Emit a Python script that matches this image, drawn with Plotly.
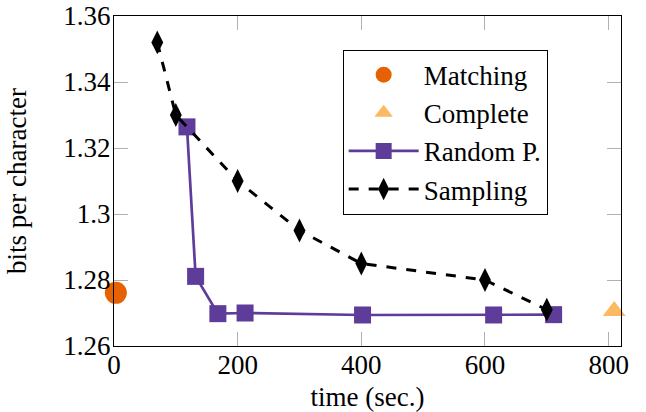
import plotly.graph_objects as go

# Data
matching_x = [3]
matching_y = [1.2761]

complete_x = [809]
complete_y = [1.2706]

random_x = [118, 132, 168, 212, 402, 614, 711]
random_y = [1.3264, 1.2811, 1.2698, 1.2700, 1.2694, 1.2694, 1.2695]

sampling_x = [70, 100, 200, 300, 400, 600, 700]
sampling_y = [1.352, 1.330, 1.310, 1.295, 1.285, 1.280, 1.271]

x_ticks = [0, 200, 400, 600, 800]
y_ticks = [1.26, 1.28, 1.30, 1.32, 1.34, 1.36]
y_tick_text = ["1.26", "1.28", "1.3", "1.32", "1.34", "1.36"]

FONT = "Liberation Serif"
FS = 27

fig = go.Figure()
fig.add_trace(go.Scatter(
    x=matching_x, y=matching_y, mode="markers", name="Matching",
    marker=dict(symbol="circle", size=22, color="#e66101"),
    cliponaxis=False))
fig.add_trace(go.Scatter(
    x=complete_x, y=complete_y, mode="markers", name="Complete",
    marker=dict(symbol="triangle-up", size=20, color="#fdb863"),
    cliponaxis=False))
fig.add_trace(go.Scatter(
    x=random_x, y=random_y, mode="lines+markers", name="Random P.",
    line=dict(color="#5e3c99", width=2.7),
    marker=dict(symbol="square", size=17, color="#5e3c99"),
    cliponaxis=False))
fig.add_trace(go.Scatter(
    x=sampling_x, y=sampling_y, mode="lines+markers", name="Sampling",
    line=dict(color="black", width=3, dash="10px,10px"),
    marker=dict(symbol="diamond-tall", size=17, color="black"),
    cliponaxis=False))

axis_common = dict(
    showline=True, linecolor="black", linewidth=1.2, mirror="ticks",
    ticks="inside", ticklen=14, tickcolor="#b0b0b0", tickwidth=1,
    showgrid=False, zeroline=False, automargin=False,
    ticklabeloverflow="allow",
    tickfont=dict(family=FONT, size=FS, color="black"),
)

fig.update_xaxes(
    range=[0, 820], tickvals=x_ticks, ticklabelstandoff=-6,
    title=dict(text="time (sec.)", font=dict(family=FONT, size=FS, color="black"), standoff=14),
    **axis_common)
fig.update_yaxes(
    range=[1.26, 1.36], tickvals=y_ticks, ticktext=y_tick_text, ticklabelstandoff=-3,
    title=dict(text="bits per character", font=dict(family=FONT, size=FS, color="black"), standoff=28),
    **axis_common)

fig.update_layout(
    width=646, height=412,
    margin=dict(l=114, r=25, t=16, b=66),
    plot_bgcolor="white", paper_bgcolor="white",
    font=dict(family=FONT, size=FS, color="black"),
    hovermode=False,
    legend=dict(
        x=0.451, y=0.898, xanchor="left", yanchor="top",
        bordercolor="black", borderwidth=1, bgcolor="white",
        font=dict(family=FONT, size=FS, color="black"),
        itemwidth=70, tracegroupgap=0,
    ),
    showlegend=True,
)

# remove the default 8px page margin so the figure sits at the window origin
fig.write_html(
    "out.html",
    config={"displayModeBar": False, "staticPlot": False},
    post_script="document.body.style.margin='0';",
)
